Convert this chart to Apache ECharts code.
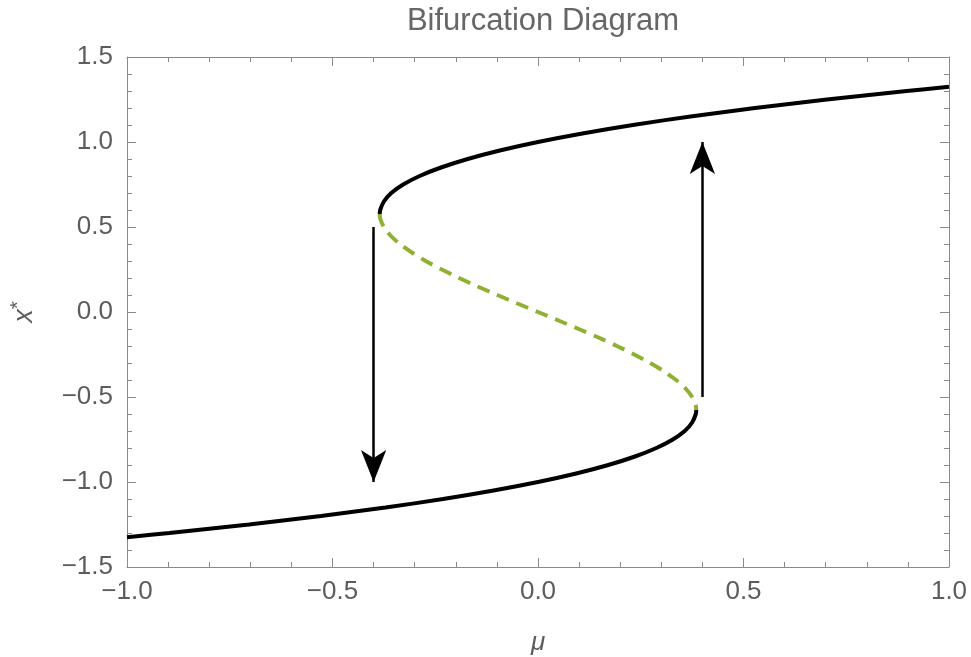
<!DOCTYPE html>
<html>
<head>
<meta charset="utf-8">
<script src="https://cdn.jsdelivr.net/npm/echarts@6/dist/echarts.min.js"></script>
<style>
  html, body { margin: 0; padding: 0; background: #fff; }
  #chart { width: 971px; height: 657px; }
</style>
</head>
<body>
<div id="chart"></div>
<script>
// Fixed points x* against the control parameter mu.
// Upper stable branch (solid)
var upperX  = [0.577, 0.6, 0.65, 0.7, 0.75, 0.8, 0.85, 0.9, 0.95, 1.0, 1.05, 1.1, 1.15, 1.2, 1.25, 1.3, 1.325];
var upperMu = [-0.385, -0.384, -0.375, -0.357, -0.328, -0.288, -0.236, -0.171, -0.093, 0.0, 0.108, 0.231, 0.371, 0.528, 0.703, 0.897, 1.0];
// Middle unstable branch (dashed)
var middleX  = [0.577, 0.55, 0.5, 0.45, 0.4, 0.35, 0.3, 0.25, 0.2, 0.15, 0.1, 0.05, 0.0, -0.05, -0.1, -0.15, -0.2, -0.25, -0.3, -0.35, -0.4, -0.45, -0.5, -0.55, -0.577];
var middleMu = [-0.385, -0.384, -0.375, -0.359, -0.336, -0.307, -0.273, -0.234, -0.192, -0.147, -0.099, -0.050, 0.0, 0.050, 0.099, 0.147, 0.192, 0.234, 0.273, 0.307, 0.336, 0.359, 0.375, 0.384, 0.385];
// Lower stable branch (solid)
var lowerX  = [-1.325, -1.3, -1.25, -1.2, -1.15, -1.1, -1.05, -1.0, -0.95, -0.9, -0.85, -0.8, -0.75, -0.7, -0.65, -0.6, -0.577];
var lowerMu = [-1.0, -0.897, -0.703, -0.528, -0.371, -0.231, -0.108, 0.0, 0.093, 0.171, 0.236, 0.288, 0.328, 0.357, 0.375, 0.384, 0.385];

// Hysteresis jumps: position in mu, start and end in x*
var jumpMu   = [-0.4, 0.4];
var jumpFrom = [0.5, -0.5];
var jumpTo   = [-1.0, 1.0];

// Axis ticks
var muTicks = [-1.0, -0.5, 0.0, 0.5, 1.0];
var xTicks  = [-1.5, -1.0, -0.5, 0.0, 0.5, 1.0, 1.5];

function pairs(mu, x) {
  return mu.map(function (m, i) { return [m, x[i]]; });
}
function fmt(v) {
  return v.toFixed(1).replace('-', '\u2212');
}

var FONT = 'Liberation Sans, Arial, sans-serif';
var FRAME = '#8a8a8a';
var TEXT = '#5c5c5c';

var tickStyle = { show: true, inside: true, length: 9, lineStyle: { color: FRAME, width: 1 } };
var minorStyle = { show: true, splitNumber: 5, length: 5, lineStyle: { color: FRAME, width: 1 } };

var chart = echarts.init(document.getElementById('chart'), null, { renderer: 'canvas' });

chart.setOption({
  animation: false,
  backgroundColor: '#ffffff',
  title: {
    text: 'Bifurcation Diagram',
    left: 538, top: 1, textAlign: 'center',
    textStyle: { fontFamily: FONT, fontSize: 31, fontWeight: 'normal', color: '#666666' }
  },
  grid: { left: 127, right: 22, top: 57, bottom: 90, containLabel: false, outerBoundsMode: 'none' },
  xAxis: [{
    type: 'value', min: -1, max: 1, interval: 0.5, position: 'bottom',
    axisLine: { show: true, onZero: false, lineStyle: { color: FRAME, width: 1 } },
    axisTick: tickStyle, minorTick: minorStyle,
    splitLine: { show: false },
    axisLabel: { color: TEXT, fontFamily: FONT, fontSize: 26, margin: 12,
      formatter: function (v) { return muTicks.indexOf(v) >= 0 ? fmt(v) : ''; } },
    name: '\u03bc', nameLocation: 'middle', nameGap: 63,
    nameTextStyle: { color: TEXT, fontFamily: FONT, fontSize: 26, fontStyle: 'italic' }
  }, {
    type: 'value', min: -1, max: 1, interval: 0.5, position: 'top',
    axisLine: { show: true, onZero: false, lineStyle: { color: FRAME, width: 1 } },
    axisTick: tickStyle, minorTick: minorStyle,
    splitLine: { show: false }, axisLabel: { show: false }
  }],
  yAxis: [{
    type: 'value', min: -1.5, max: 1.5, interval: 0.5, position: 'left',
    axisLine: { show: true, onZero: false, lineStyle: { color: FRAME, width: 1 } },
    axisTick: tickStyle, minorTick: minorStyle,
    splitLine: { show: false },
    axisLabel: { color: TEXT, fontFamily: FONT, fontSize: 26, margin: 14,
      formatter: function (v) { return xTicks.indexOf(v) >= 0 ? fmt(v) : ''; } },
    name: '{x|x}{s|*}', nameLocation: 'middle', nameGap: 86, nameRotate: 90,
    nameTextStyle: {
      rich: {
        x: { color: TEXT, fontFamily: FONT, fontSize: 27, fontStyle: 'italic' },
        s: { color: TEXT, fontFamily: FONT, fontSize: 21, verticalAlign: 'top', padding: [0, 0, 12, 0] }
      }
    }
  }, {
    type: 'value', min: -1.5, max: 1.5, interval: 0.5, position: 'right',
    axisLine: { show: true, onZero: false, lineStyle: { color: FRAME, width: 1 } },
    axisTick: tickStyle, minorTick: minorStyle,
    splitLine: { show: false }, axisLabel: { show: false }
  }],
  series: [{
    type: 'line', name: 'upper', data: pairs(upperMu, upperX),
    showSymbol: false, smooth: 0.3, z: 3,
    lineStyle: { color: '#000000', width: 4 }
  }, {
    type: 'line', name: 'middle', data: pairs(middleMu, middleX),
    showSymbol: false, smooth: 0.3, z: 2,
    lineStyle: { color: '#8fb032', width: 4, type: [13, 8] }
  }, {
    type: 'line', name: 'lower', data: pairs(lowerMu, lowerX),
    showSymbol: false, smooth: 0.3, z: 3,
    lineStyle: { color: '#000000', width: 4 }
  }, {
    type: 'line', name: 'jumps', data: [],
    markLine: {
      silent: true, animation: false,
      symbol: ['none', 'arrow'], symbolSize: [19, 32],
      label: { show: false },
      lineStyle: { color: '#000000', width: 2.5, type: 'solid' },
      data: jumpMu.map(function (m, i) {
        return [{ coord: [m, jumpFrom[i]] }, { coord: [m, jumpTo[i]] }];
      })
    }
  }]
});
</script>
</body>
</html>
